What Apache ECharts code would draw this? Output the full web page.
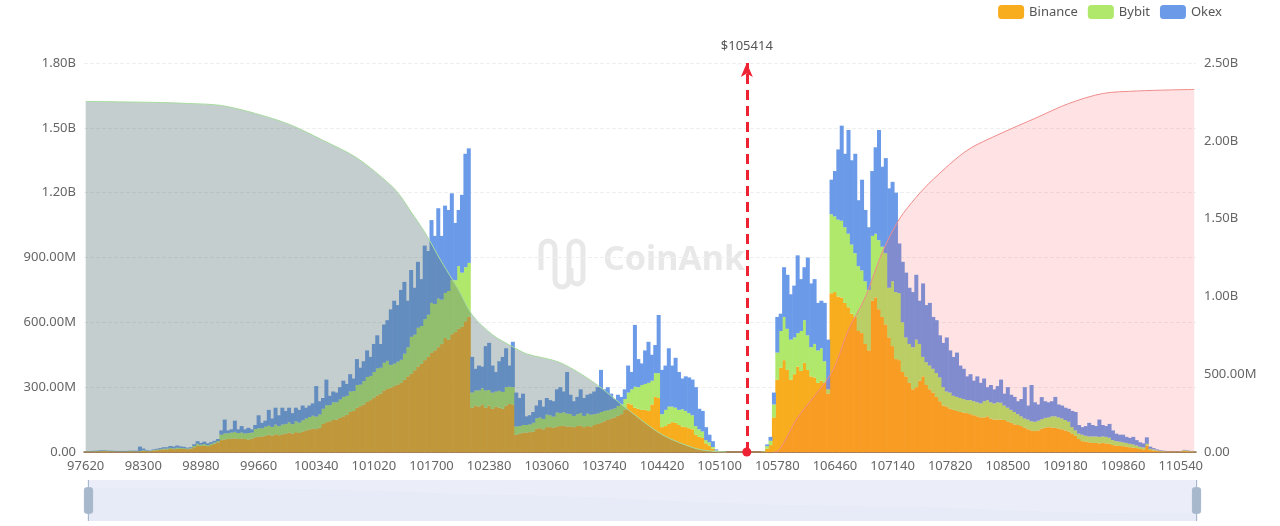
<!DOCTYPE html>
<html>
<head>
<meta charset="utf-8">
<style>
  html, body { margin: 0; padding: 0; background: #fff; }
  #chart { width: 1280px; height: 526px; }
</style>
<script src="https://cdn.jsdelivr.net/npm/echarts@6/dist/echarts.min.js"></script>
</head>
<body>
<div id="chart"></div>
<script>
// values in millions, one bucket every $40 from 97620
const startPrice = 97620
const priceStep = 40
const currentPriceLabel = '$105414'
const currentPriceIndex = 195

const binance = [
  1,2,2,3,3,4,4,3,3,2, 2,2,2,3,3,2,3,5,4,3,
  7,8,10,12,12,14,13,15,14,14, 13,15,22,30,28,30,27,32,38,45,
  55,58,60,62,63,60,62,60,58,62, 68,70,72,75,80,76,82,78,82,85,
  90,85,92,88,95,100,104,108,106,112, 130,138,142,148,150,158,165,172,185,190,
  205,212,220,232,240,252,262,270,285,292, 298,305,312,320,335,350,362,378,395,408,
  425,440,459,470,485,500,528,520,545,555, 570,580,605,625,205,215,210,220,205,215,
  200,210,205,200,215,222,220,80,85,90, 90,92,95,108,110,105,115,115,112,118,
  120,122,118,118,115,120,122,115,120,118, 125,130,135,142,148,155,160,168,175,195,
  225,220,205,200,195,195,190,220,255,250, 115,120,130,138,135,125,118,115,110,105,
  80,70,65,40,30,15,5,1,0,0, 0,0,0,0,0,0,0,0,0,0,
  2,15,32,160,335,390,425,380,335,360, 395,375,413,380,350,345,320,330,320,270,
  735,740,720,715,690,670,640,625,560,550, 500,470,700,715,660,625,590,530,490,430,
  425,370,350,320,290,300,330,350,310,290, 275,255,235,215,210,200,195,190,185,182,
  180,175,170,165,160,160,165,155,150,150, 150,148,142,135,128,125,120,112,105,100,
  97,100,108,112,115,113,112,108,105,100, 95,85,75,60,50,48,45,42,42,40,
  42,40,38,32,30,28,27,25,22,20, 18,14,12,30,9,7,5,3,2,1,
  1,1,1,2,4,3,2,1
]
const bybit = [
  1,1,1,1,1,2,2,1,1,1, 1,1,1,1,1,1,2,3,2,1,
  2,3,3,4,4,5,4,5,5,4, 3,3,6,8,6,7,5,6,6,6,
  25,28,27,28,30,28,28,26,30,28, 38,40,38,42,42,40,45,42,45,45,
  48,44,50,48,52,55,58,60,58,62, 70,78,75,82,80,85,90,88,95,92,
  105,100,108,115,112,118,125,120,128,130, 105,104,106,107,120,135,171,165,180,175,
  190,195,231,215,225,205,208,225,250,240, 290,250,250,250,70,70,75,75,80,72,
  75,70,78,78,85,80,80,38,35,35, 35,36,40,48,50,48,58,55,52,65,
  60,62,60,58,52,55,58,52,58,55, 50,48,50,48,45,42,42,45,45,50,
  50,70,97,100,115,120,130,110,110,115, 60,75,80,72,70,70,80,75,70,65,
  40,35,30,15,15,8,2,1,0,0, 0,0,0,0,0,0,0,0,0,0,
  2,12,20,60,125,170,200,190,185,170, 155,185,197,160,135,155,150,150,100,20,
  365,350,355,355,350,340,320,295,300,290, 290,280,300,295,320,325,330,230,300,310,
  310,230,180,180,195,220,170,90,105,110, 110,110,110,85,70,75,65,65,65,63,
  60,65,65,65,65,75,75,75,75,80, 78,67,63,60,57,50,45,43,45,42,
  43,45,44,46,45,52,53,52,50,48, 45,30,25,25,30,27,27,30,30,30,
  30,30,28,23,20,20,18,17,16,15, 12,10,9,8,6,5,3,2,2,1,
  1,1,1,1,4,3,2,1
]
const okex = [
  1,1,2,2,3,3,2,2,2,2, 2,2,2,2,2,3,20,8,3,2,
  3,4,5,6,6,9,8,10,7,6, 4,4,8,12,8,11,8,8,8,9,
  20,64,13,15,52,17,30,19,24,15, 19,60,25,28,73,39,78,50,78,60,
  67,51,63,59,68,50,53,57,141,61, 50,119,43,50,45,57,75,55,80,58,
  120,78,92,123,88,130,153,110,177,188, 257,291,262,323,332,215,309,217,305,217,
  340,295,383,315,418,295,404,375,402,265, 260,360,525,530,165,100,115,100,205,218,
  125,90,137,162,180,98,210,157,130,145, 40,42,50,59,80,57,77,70,71,107,
  120,96,192,89,68,80,110,83,87,97, 105,122,195,100,107,73,43,52,35,45,
  125,80,286,130,100,155,190,120,130,269, 205,205,270,190,231,175,142,160,165,165,
  180,95,95,60,35,27,5,1,1,0, 0,0,0,0,0,0,0,0,0,0,
  1,8,18,55,165,80,230,250,210,240, 360,240,245,360,295,300,220,220,270,230,
  160,210,325,440,340,480,390,460,305,420, 330,290,300,400,510,370,440,460,460,460,
  230,280,300,260,255,300,200,340,265,290, 240,245,195,205,250,195,180,205,150,140,
  110,120,95,120,95,105,60,80,65,75, 107,55,95,70,70,60,80,145,65,168,
  90,75,102,77,70,70,90,60,60,57, 60,75,85,40,35,45,63,53,48,80,
  53,50,64,45,35,32,35,28,27,35, 25,21,19,30,10,6,4,3,2,1,
  0,1,1,1,2,2,1,1
]

// cumulative curves read at a handful of prices
const shortPrices = [97620,98420,98820,99220,99620,100020,100420,100820,101220,101340,101460,101620,101820,102020,102180,102420,102660,102820,103220,103620,104020,104420,104820,105060,105180]
const shortTotals = [2253,2247,2240,2227,2176,2106,2003,1890,1715,1640,1542,1413,1221,1042,881,753,676,631,574,445,272,112,22,3,0]
const longPrices = [105740,105780,106020,106420,106620,106820,107020,107220,107420,107620,108020,108420,108820,109220,109620,110020,110420,110700]
const longTotals = [0,3,221,510,785,997,1285,1497,1638,1753,1939,2048,2144,2240,2304,2320,2327,2330]

const categories = binance.map((_, i) => String(startPrice + i * priceStep))
const pairs = (prices, values) => prices.map((p, i) => [String(p), values[i]])

function money(v) {
  if (v === 0) return '0.00'
  return v >= 1000 ? (v / 1000).toFixed(2) + 'B' : v.toFixed(2) + 'M'
}

const font = '"Noto Sans", sans-serif'
const textColor = '#666'
const markColor = '#e8e8e8'

function barSeries(name, data, color) {
  return {
    name: name,
    type: 'bar',
    stack: 'liq',
    data: data,
    barWidth: 4,
    itemStyle: { color: color },
    z: 2
  }
}

// watermark logo, drawn as a wave of lines and half circles
function logoPart(type, shape) {
  return {
    type: type,
    silent: true,
    z: 0,
    shape: shape,
    style: { fill: null, stroke: markColor, lineWidth: 5 }
  }
}
const logo = [
  logoPart('line', { x1: 541, y1: 248, x2: 541, y2: 270 }),
  logoPart('arc', { cx: 548, cy: 248, r: 7, startAngle: Math.PI, endAngle: 2 * Math.PI }),
  logoPart('line', { x1: 555, y1: 248, x2: 555, y2: 280 }),
  logoPart('arc', { cx: 562, cy: 280, r: 7, startAngle: 0, endAngle: Math.PI }),
  logoPart('line', { x1: 569, y1: 248, x2: 569, y2: 280 }),
  logoPart('arc', { cx: 576, cy: 248, r: 7, startAngle: Math.PI, endAngle: 2 * Math.PI }),
  logoPart('line', { x1: 583, y1: 248, x2: 583, y2: 278 }),
  logoPart('arc', { cx: 577, cy: 278, r: 6, startAngle: 0, endAngle: Math.PI }),
  logoPart('line', { x1: 571, y1: 278, x2: 571, y2: 268 })
]

const chart = echarts.init(document.getElementById('chart'), null, { renderer: 'canvas' })

chart.setOption({
  animation: false,
  textStyle: { fontFamily: font },
  legend: {
    data: ['Binance', 'Bybit', 'Okex'],
    top: 0,
    right: 53,
    icon: 'roundRect',
    itemWidth: 26,
    itemHeight: 14,
    itemGap: 10,
    textStyle: { color: '#555', fontSize: 13, fontFamily: font }
  },
  grid: { left: 84, right: 84, top: 63, bottom: 74 },
  xAxis: {
    type: 'category',
    data: categories,
    axisTick: { show: false },
    axisLine: { lineStyle: { color: '#8a5a2a', width: 1.5 } },
    axisLabel: { interval: 16, color: textColor, fontSize: 13, margin: 8, fontFamily: font }
  },
  yAxis: [
    {
      type: 'value',
      min: 0,
      max: 1800,
      interval: 300,
      axisLine: { show: false },
      axisTick: { show: false },
      splitLine: { lineStyle: { type: 'dashed', color: '#efefef' } },
      axisLabel: { formatter: money, color: textColor, fontSize: 13, margin: 8, fontFamily: font }
    },
    {
      type: 'value',
      min: 0,
      max: 2500,
      interval: 500,
      axisLine: { show: false },
      axisTick: { show: false },
      splitLine: { show: false },
      axisLabel: { formatter: money, color: textColor, fontSize: 13, margin: 8, fontFamily: font }
    }
  ],
  dataZoom: [
    {
      type: 'slider',
      start: 0,
      end: 100,
      left: 85,
      right: 85,
      bottom: 5,
      height: 41,
      filterMode: 'none',
      showDetail: false,
      moveHandleSize: 0,
      brushSelect: false,
      borderColor: 'transparent',
      backgroundColor: '#ebeef9',
      fillerColor: 'rgba(235,238,249,0.6)',
      handleSize: '100%',
      handleStyle: { color: '#a7b7cc', borderColor: '#a7b7cc' },
      dataBackground: {
        lineStyle: { opacity: 0 },
        areaStyle: { color: '#dfe5f6', opacity: 0.8 }
      },
      selectedDataBackground: {
        lineStyle: { opacity: 0 },
        areaStyle: { color: '#dfe5f6', opacity: 0.8 }
      }
    }
  ],
  graphic: logo.concat([
    {
      type: 'text',
      silent: true,
      z: 0,
      left: 603,
      top: 243,
      style: { text: 'CoinAnk', fill: markColor, font: 'bold 34px "Noto Sans", sans-serif' }
    }
  ]),
  series: [
    {
      name: 'short',
      type: 'line',
      yAxisIndex: 1,
      data: pairs(shortPrices, shortTotals),
      smooth: 0.3,
      showSymbol: false,
      z: 3,
      lineStyle: { color: '#a8dca0', width: 1 },
      itemStyle: { color: '#a8dca0' },
      areaStyle: { color: 'rgba(88,115,115,0.35)', opacity: 1 }
    },
    barSeries('Binance', binance, '#f7ad1e'),
    barSeries('Bybit', bybit, '#b0e86c'),
    Object.assign(barSeries('Okex', okex, '#6b9be8'), {
      markLine: {
        silent: true,
        animation: false,
        symbol: ['circle', 'arrow'],
        symbolSize: [9, 14],
        lineStyle: { color: '#ee2233', type: [10, 6], width: 3 },
        label: {
          show: true,
          position: 'end',
          formatter: currentPriceLabel,
          color: '#555',
          fontSize: 13,
          distance: 10,
          fontFamily: font
        },
        data: [{ xAxis: currentPriceIndex }]
      }
    }),
    {
      name: 'long',
      type: 'line',
      yAxisIndex: 1,
      data: pairs(longPrices, longTotals),
      smooth: 0.3,
      showSymbol: false,
      z: 3,
      lineStyle: { color: '#f08c8c', width: 1 },
      itemStyle: { color: '#f08c8c' },
      areaStyle: { color: 'rgba(255,60,70,0.15)', opacity: 1 }
    }
  ]
})
</script>
</body>
</html>
